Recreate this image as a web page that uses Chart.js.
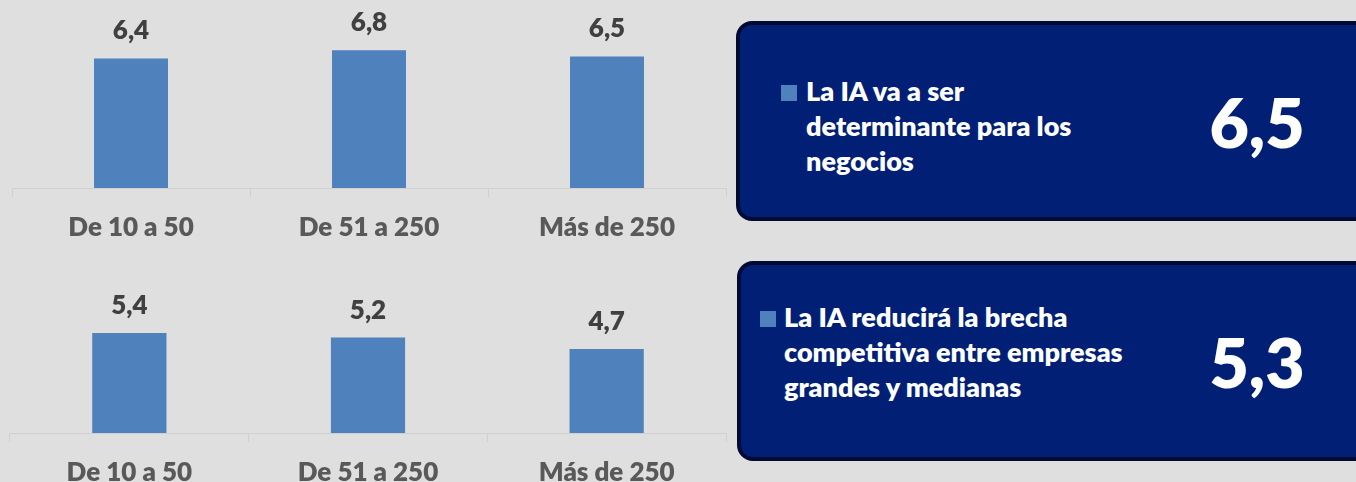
<!DOCTYPE html>
<html>
<head>
<meta charset="utf-8">
<script src="https://cdn.jsdelivr.net/npm/chart.js@4.4.1/dist/chart.umd.min.js"></script>
<style>
  body { margin:0; width:1356px; height:482px; overflow:hidden; background:#dfdfdf; position:relative; font-family:Lato, "Open Sans", sans-serif; }
  canvas { position:absolute; left:0; }
  .card { position:absolute; width:640px; height:192px; background:#001f75; border:4px solid #000a33; border-radius:16px; }
  .mark { position:absolute; width:16px; height:16px; background:#4f81bd; }
  .txt { position:absolute; color:#fff; font-weight:800; font-size:27px; line-height:35px; white-space:nowrap; }
  .big { position:absolute; width:160px; text-align:center; color:#fff; font-weight:800; font-size:68px; line-height:80px; }
</style>
</head>
<body>
<canvas id="topChart" width="740" height="250" style="top:0px"></canvas>
<canvas id="bottomChart" width="740" height="250" style="top:245px"></canvas>
<div id="cards"></div>
<script>
const categories = ['De 10 a 50', 'De 51 a 250', 'Más de 250'];
const determinanteValues = [6.4, 6.8, 6.5];
const brechaValues = [5.4, 5.2, 4.7];

const summaryLabels = [
  ['La IA va a ser', 'determinante para los', 'negocios'],
  ['La IA reducirá la brecha', 'competitiva entre empresas', 'grandes y medianas']
];
const summaryValues = [6.5, 5.3];

function fmt(v) { return v.toFixed(1).replace('.', ','); }

// etiquetas de valor encima de cada barra
const valueLabels = {
  id: 'valueLabels',
  afterDatasetsDraw(chart) {
    const ctx = chart.ctx;
    const vals = chart.data.datasets[0].data;
    ctx.save();
    ctx.font = '800 26px Lato';
    ctx.fillStyle = '#404040';
    ctx.textAlign = 'center';
    ctx.textBaseline = 'alphabetic';
    chart.getDatasetMeta(0).data.forEach((bar, i) => {
      ctx.fillText(fmt(vals[i]), bar.x, bar.y - 19);
    });
    ctx.restore();
  }
};

function makeChart(id, values, yMin, yMax, padLeft, padTop) {
  return new Chart(document.getElementById(id), {
    type: 'bar',
    data: {
      labels: categories,
      datasets: [{
        data: values,
        backgroundColor: '#4f81bd',
        barPercentage: 0.311,
        categoryPercentage: 1
      }]
    },
    options: {
      responsive: false,
      animation: false,
      layout: { padding: { left: padLeft, right: 14, top: padTop, bottom: 0 } },
      plugins: { legend: { display: false }, tooltip: { enabled: false } },
      scales: {
        x: {
          afterFit: (s) => { s.height = 62; },
          grid: { drawOnChartArea: false, tickLength: 9, color: '#d0d0d0' },
          border: { color: '#d0d0d0', width: 1 },
          ticks: { color: '#595959', font: { family: 'Lato', size: 26, weight: '800' }, padding: 15 }
        },
        y: { display: false, min: yMin, max: yMax }
      }
    },
    plugins: [valueLabels]
  });
}

makeChart('topChart', determinanteValues, 0, 8, 12, 26);
makeChart('bottomChart', brechaValues, 1, 6.5, 10, 63);

// tarjetas de resumen
const cardTops = [21, 261];
const cardLefts = [736, 737];
const markPos = [[781, 85], [760, 311]];
const textPos = [[806, 73], [784, 299]];
const cardsEl = document.getElementById('cards');
summaryLabels.forEach((lines, i) => {
  const c = document.createElement('div');
  c.className = 'card';
  c.style.left = cardLefts[i] + 'px';
  c.style.top = cardTops[i] + 'px';
  cardsEl.appendChild(c);

  const m = document.createElement('div');
  m.className = 'mark';
  m.style.left = markPos[i][0] + 'px';
  m.style.top = markPos[i][1] + 'px';
  cardsEl.appendChild(m);

  const t = document.createElement('div');
  t.className = 'txt';
  t.style.left = textPos[i][0] + 'px';
  t.style.top = textPos[i][1] + 'px';
  t.innerHTML = lines.join('<br>');
  cardsEl.appendChild(t);

  const b = document.createElement('div');
  b.className = 'big';
  b.style.left = '1177px';
  b.style.top = (cardTops[i] + 61) + 'px';
  b.textContent = fmt(summaryValues[i]);
  cardsEl.appendChild(b);
});
</script>
</body>
</html>
